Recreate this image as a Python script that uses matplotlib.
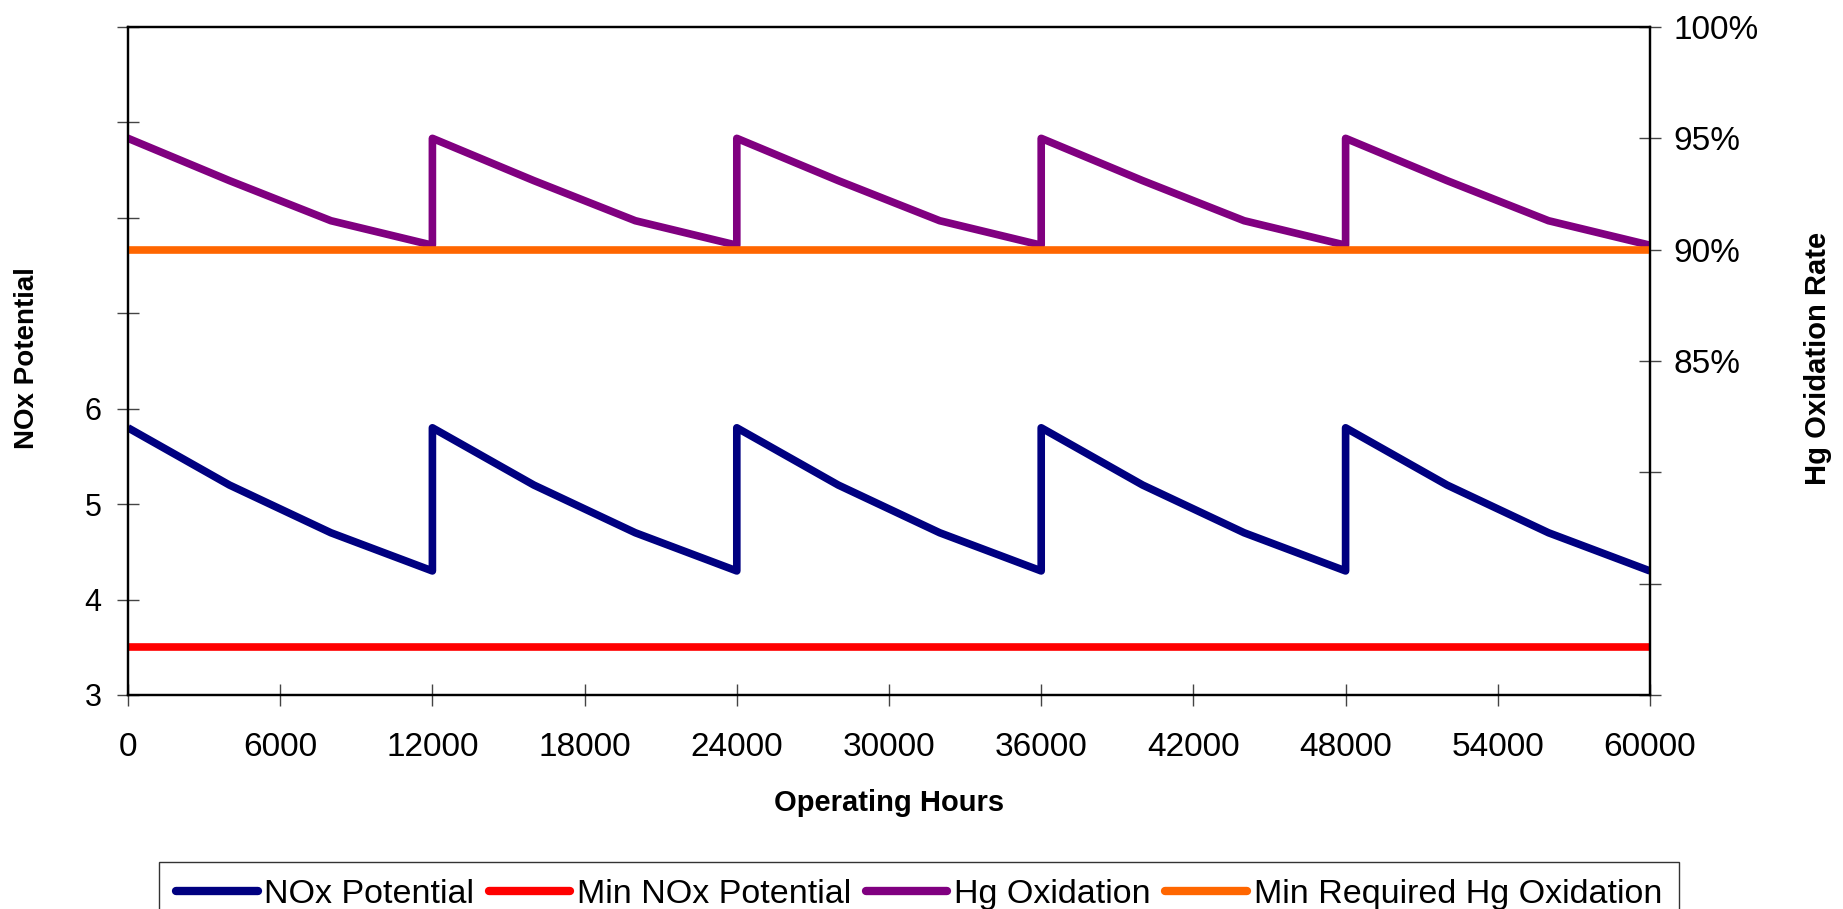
import matplotlib
matplotlib.use("Agg")
import matplotlib.pyplot as plt
from matplotlib.ticker import FixedLocator, FixedFormatter

plt.rcParams['font.family'] = ['Liberation Sans', 'DejaVu Sans']

# operating hours, with a repeated hour at each catalyst change
hours = [0, 4000, 8000, 12000,
         12000, 16000, 20000, 24000,
         24000, 28000, 32000, 36000,
         36000, 40000, 44000, 48000,
         48000, 52000, 56000, 60000]
nox_potential = [5.8, 5.2, 4.7, 4.3,
                 5.8, 5.2, 4.7, 4.3,
                 5.8, 5.2, 4.7, 4.3,
                 5.8, 5.2, 4.7, 4.3,
                 5.8, 5.2, 4.7, 4.3]
hg_oxidation = [0.950, 0.931, 0.913, 0.902,
                0.950, 0.931, 0.913, 0.902,
                0.950, 0.931, 0.913, 0.902,
                0.950, 0.931, 0.913, 0.902,
                0.950, 0.931, 0.913, 0.902]
min_hours = [0, 60000]
min_nox = [3.5, 3.5]
min_hg = [0.90, 0.90]

x_ticks = [0, 6000, 12000, 18000, 24000, 30000, 36000, 42000, 48000, 54000, 60000]
nox_ticks = [3, 4, 5, 6, 7, 8, 9, 10]
nox_labels = ['3', '4', '5', '6', '', '', '', '']
hg_ticks = [0.70, 0.75, 0.80, 0.85, 0.90, 0.95, 1.00]
hg_labels = ['', '', '', '85%', '90%', '95%', '100%']

W, H = 1843, 909
fig = plt.figure(figsize=(W / 100, H / 100), dpi=100)
ax = fig.add_axes([128 / W, 1 - 695 / H, (1650 - 128) / W, (695 - 27) / H])
ax2 = ax.twinx()

l1, = ax.plot(hours, nox_potential, color='#000080', lw=5.5, solid_joinstyle='round',
              solid_capstyle='butt', label='NOx Potential')
l2, = ax.plot(min_hours, min_nox, color='#FF0000', lw=5.5, label='Min NOx Potential')
l3, = ax2.plot(hours, hg_oxidation, color='#800080', lw=5.5, solid_joinstyle='round',
               label='Hg Oxidation')
l4, = ax2.plot(min_hours, min_hg, color='#FF6600', lw=5.5, label='Min Required Hg Oxidation')

ax.set_xlim(0, 60000)
ax.set_ylim(3, 10)
ax2.set_ylim(0.70, 1.00)

ax.xaxis.set_major_locator(FixedLocator(x_ticks))
ax.yaxis.set_major_locator(FixedLocator(nox_ticks))
ax.yaxis.set_major_formatter(FixedFormatter(nox_labels))
ax2.yaxis.set_major_locator(FixedLocator(hg_ticks))
ax2.yaxis.set_major_formatter(FixedFormatter(hg_labels))

for a in (ax, ax2):
    for s in a.spines.values():
        s.set_linewidth(1.6)
        s.set_color('black')
    a.tick_params(direction='inout', length=16, width=1.0, color='#444444')
ax.tick_params(axis='x', labelsize=24, pad=19)
ax.tick_params(axis='y', labelsize=22, pad=11)
ax2.tick_params(axis='y', labelsize=24, pad=9)

ax.set_xlabel('Operating Hours', fontsize=21, fontweight='bold')
ax.xaxis.set_label_coords(0.5, -0.14)
ax.set_ylabel('NOx Potential', fontsize=20, fontweight='bold')
ax.yaxis.set_label_coords(-0.058, 0.504)
ax2.set_ylabel('Hg Oxidation Rate', fontsize=21, fontweight='bold')
ax2.yaxis.set_label_coords(1.101, 0.504)

leg = fig.legend(handles=[l1, l2, l3, l4], ncol=4, loc='upper left',
                 bbox_to_anchor=(159 / W, 1 - 862 / H), borderaxespad=0,
                 prop={'size': 24.5}, handlelength=2.4, handletextpad=0.2,
                 columnspacing=0.42, borderpad=0.5,
                 fancybox=False, framealpha=1, edgecolor='#333333')
leg.get_frame().set_linewidth(1.0)
for h in leg.legend_handles:
    h.set_linewidth(6)
    h.set_solid_capstyle('round')

fig.savefig('out.png', dpi=100)
